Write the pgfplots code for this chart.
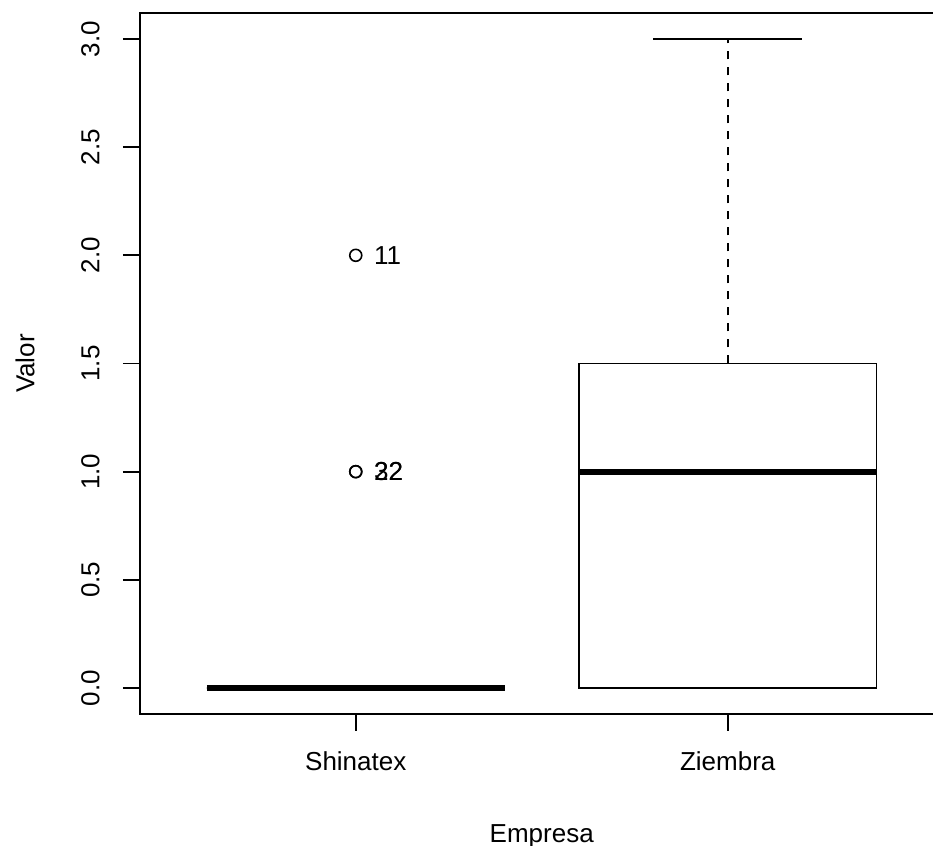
\documentclass[border=0pt]{standalone}
\usepackage{fontspec}
\setmainfont{Liberation Sans}
\usepackage{pgfplots}
\pgfplotsset{compat=1.18}
\usepgfplotslibrary{statistics}
\newcommand{\rfont}{\fontsize{13}{15.6}\selectfont}
\pgfplotsset{
  rboxdraw/.style={
    /pgfplots/boxplot/every box/.style={line width=0.9pt, black},
    /pgfplots/boxplot/every median/.style={line width=3pt, black},
    /pgfplots/boxplot/every whisker/.style={line width=0.9pt, black},
    /pgfplots/boxplot/draw/upper whisker/.code={%
      \draw[dash pattern=on 4pt off 4pt, line width=0.9pt, black]
        (boxplot cs:\pgfplotsboxplotvalue{upper quartile}) -- (boxplot cs:\pgfplotsboxplotvalue{upper whisker});
      \draw[line width=0.9pt, black]
        (boxplot whisker cs:\pgfplotsboxplotvalue{upper whisker},0) -- (boxplot whisker cs:\pgfplotsboxplotvalue{upper whisker},1);
    },
    /pgfplots/boxplot/draw/lower whisker/.code={%
      \draw[dash pattern=on 4pt off 4pt, line width=0.9pt, black]
        (boxplot cs:\pgfplotsboxplotvalue{lower whisker}) -- (boxplot cs:\pgfplotsboxplotvalue{lower quartile});
      \draw[line width=0.9pt, black]
        (boxplot whisker cs:\pgfplotsboxplotvalue{lower whisker},0) -- (boxplot whisker cs:\pgfplotsboxplotvalue{lower whisker},1);
    },
  },
}
\begin{document}
\begin{tikzpicture}
\begin{axis}[
  name=ax,
  scale only axis,
  width=401.75pt, height=350.5pt,
  xmin=0.42, xmax=2.58, ymin=-0.12, ymax=3.12,
  axis line style={line width=0.9pt, black},
  xtick={1,2}, xticklabels={Shinatex, Ziembra},
  ytick={0,0.5,1,1.5,2,2.5,3},
  xtick pos=bottom, ytick pos=left,
  tick align=outside,
  major tick length=8.5pt,
  every tick/.style={black, line width=0.9pt},
  tick label style={font=\rfont},
  /pgf/number format/assume math mode=true,
  yticklabel style={rotate=90, anchor=south, inner sep=0pt,
    /pgf/number format/.cd, fixed, fixed zerofill, precision=1},
  yticklabel shift=11.5pt,
  xticklabel style={anchor=north, inner sep=0pt},
  xticklabel shift=10pt,
  every axis x label/.style={at={([yshift=-55pt]axis description cs:0.5,0)}, anchor=north, inner sep=0pt, font=\rfont},
  every axis y label/.style={at={([xshift=-52.5pt]axis description cs:0,0.5)}, rotate=90, anchor=south, inner sep=0pt, font=\rfont},
  xlabel={Empresa}, ylabel={Valor},
  clip=false,
  boxplot/box extend=0.8,
  boxplot/whisker extend=0.4,
  rboxdraw,
]
\addplot[black, boxplot prepared={draw direction=y, draw position=1, lower whisker=0, lower quartile=0, median=0, upper quartile=0, upper whisker=0},
  rboxdraw,
  mark=o, mark size=3pt, mark options={line width=0.8pt, solid}]
  table[row sep=\\, y index=0] {y\\ 1\\ 1\\ 2\\};
\addplot[black, boxplot prepared={draw direction=y, draw position=2, lower whisker=0, lower quartile=0, median=1, upper quartile=1.5, upper whisker=3},
  rboxdraw]
  coordinates {};
\addplot[only marks, mark=none, nodes near coords, point meta=explicit symbolic,
  nodes near coords style={anchor=west, inner sep=0pt, xshift=9pt, font=\rfont, black}]
  table[row sep=\\, meta=lab] {x y lab\\ 1 2 11\\ 1 1 22\\ 1 1 32\\};
\end{axis}
\pgfresetboundingbox
\path[use as bounding box] ([xshift=-70pt,yshift=-66pt]ax.south west) rectangle ([xshift=396.5pt,yshift=357pt]ax.south west);
\end{tikzpicture}
\end{document}
